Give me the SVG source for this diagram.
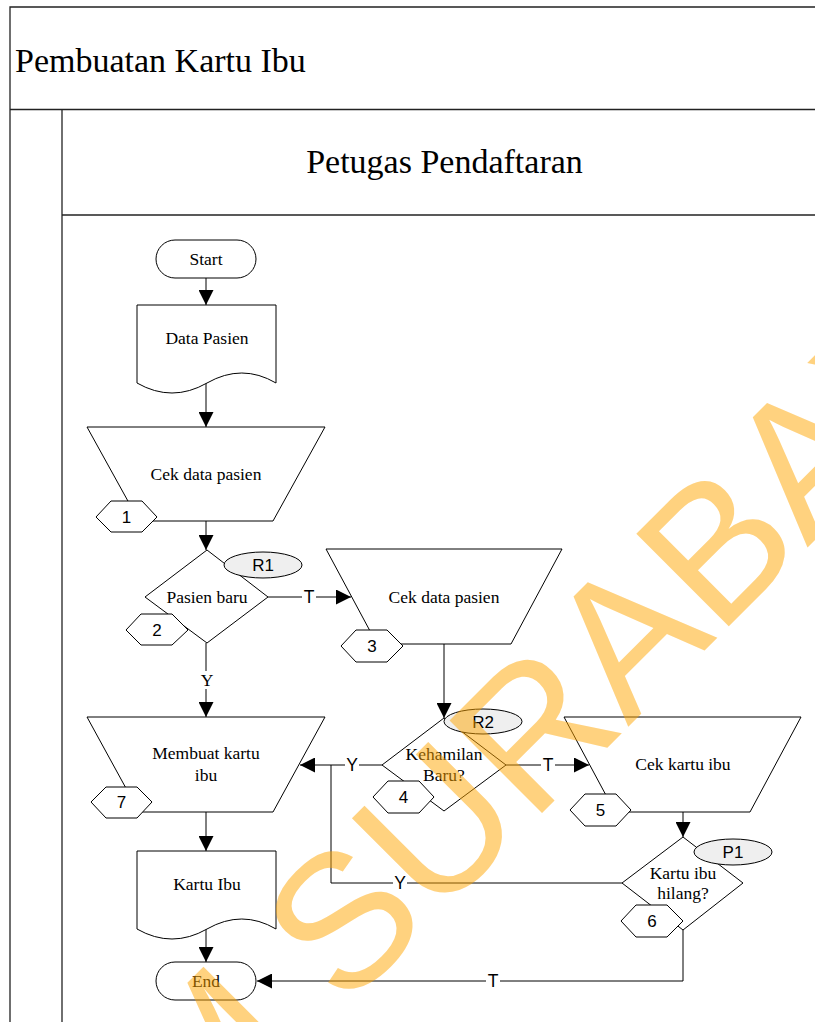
<svg xmlns="http://www.w3.org/2000/svg" width="815" height="1022" viewBox="0 0 815 1022">
  <defs>
    <marker id="arrow" viewBox="0 0 15 15" refX="15" refY="7.5" markerWidth="15" markerHeight="15" markerUnits="userSpaceOnUse" orient="auto">
      <path d="M0,0 L15,7.5 L0,15 Z" fill="#000"/>
    </marker>
  </defs>
  <style>
    .frame { fill: none; stroke: #222; stroke-width: 1.3; }
    .shape { fill: #fff; stroke: #000; stroke-width: 1; }
    .tag { fill: #efefef; stroke: #000; stroke-width: 1; }
    .line { fill: none; stroke: #000; stroke-width: 1; }
    .arr { marker-end: url(#arrow); }
    .serif { font-family: "Liberation Serif", "DejaVu Serif", serif; fill: #000; text-anchor: middle; }
    .sans { font-family: "Liberation Sans", Arial, sans-serif; fill: #000; text-anchor: middle; }
    .lbl { font-size: 17.5px; }
    .num { font-size: 17px; }
    .bg { fill: #fff; }
  </style>

  <rect width="815" height="1022" fill="#fff"/>

  <!-- pool and lane frame -->
  <g id="frame">
    <path class="frame" d="M10,1022 V7 H815"/>
    <path class="frame" d="M10,109.5 H815"/>
    <path class="frame" d="M62,110 V1022"/>
    <path class="frame" d="M62,215 H815"/>
    <text class="serif" x="15" y="72" font-size="34" style="text-anchor:start">Pembuatan Kartu Ibu</text>
    <text class="serif" x="444.5" y="173" font-size="34">Petugas Pendaftaran</text>
  </g>

  <!-- connectors -->
  <g id="connectors">
    <path class="line arr" d="M206,278 V305"/>
    <path class="line arr" d="M206,382 V427"/>
    <path class="line arr" d="M206,521 V550"/>
    <path class="line arr" d="M268,597 H351"/>
    <path class="line arr" d="M206,643 V717"/>
    <path class="line arr" d="M444,644 V718"/>
    <path class="line arr" d="M382,765 H300"/>
    <path class="line arr" d="M506,765 H589"/>
    <path class="line arr" d="M683,812 V837"/>
    <path class="line" d="M622,883 H331 V765"/>
    <path class="line arr" d="M683,930 V981 H257"/>
    <path class="line arr" d="M206,812 V851"/>
    <path class="line arr" d="M206,928 V962"/>
    <!-- branch labels -->
    <rect class="bg" x="302" y="589" width="14" height="17"/>
    <text class="sans lbl" x="309" y="603">T</text>
    <rect class="bg" x="199" y="671" width="15" height="18"/>
    <text class="serif lbl" x="207" y="686">Y</text>
    <rect class="bg" x="345" y="757" width="14" height="17"/>
    <text class="sans lbl" x="352" y="771">Y</text>
    <rect class="bg" x="541" y="757" width="14" height="17"/>
    <text class="sans lbl" x="548" y="771">T</text>
    <rect class="bg" x="393" y="875" width="14" height="17"/>
    <text class="sans lbl" x="400" y="889">Y</text>
    <rect class="bg" x="486" y="973" width="14" height="17"/>
    <text class="sans lbl" x="493" y="987">T</text>
  </g>

  <g id="start">
    <rect class="shape" x="156" y="240" width="100" height="38" rx="19"/>
    <text class="serif lbl" x="206" y="265">Start</text>
  </g>

  <g id="data-pasien">
    <path class="shape" d="M137,305 H276 V383 Q242,363 207,383 Q172,403 137,383 Z"/>
    <text class="serif lbl" x="207" y="344">Data Pasien</text>
  </g>

  <g id="cek-data-pasien-1">
    <path class="shape" d="M87,427 H325 L273,521 H139 Z"/>
    <text class="serif lbl" x="206" y="480">Cek data pasien</text>
    <path class="shape" d="M96,517 L111,501 H142 L157,517 L142,532 H111 Z"/>
    <text class="sans num" x="126.5" y="523">1</text>
  </g>

  <g id="pasien-baru">
    <path class="shape" d="M207,550 L268,597 L207,643 L145,597 Z"/>
    <text class="serif lbl" x="207" y="603">Pasien baru</text>
    <ellipse class="tag" cx="263" cy="565" rx="39" ry="13"/>
    <text class="sans num" x="263" y="571">R1</text>
    <path class="shape" d="M126,630 L141,614 H172 L188,630 L172,645 H141 Z"/>
    <text class="sans num" x="157" y="636">2</text>
  </g>

  <g id="cek-data-pasien-2">
    <path class="shape" d="M326,549 H562 L511,644 H377 Z"/>
    <text class="serif lbl" x="444" y="603">Cek data pasien</text>
    <path class="shape" d="M341,646 L356,630 H387 L403,646 L387,662 H356 Z"/>
    <text class="sans num" x="372" y="652">3</text>
  </g>

  <g id="membuat-kartu-ibu">
    <path class="shape" d="M87,717 H325 L273,812 H139 Z"/>
    <text class="serif lbl" x="206" y="759">Membuat kartu</text>
    <text class="serif lbl" x="206" y="781">ibu</text>
    <path class="shape" d="M91,802 L106,787 H137 L152,802 L137,818 H106 Z"/>
    <text class="sans num" x="121.5" y="808">7</text>
  </g>

  <g id="kehamilan-baru">
    <path class="shape" d="M444,718 L506,765 L444,811 L382,765 Z"/>
    <text class="serif lbl" x="444" y="760">Kehamilan</text>
    <text class="serif lbl" x="444" y="781">Baru?</text>
    <ellipse class="tag" cx="483" cy="721.5" rx="39" ry="12.5"/>
    <text class="sans num" x="483" y="727.5">R2</text>
    <path class="shape" d="M373,797 L388,781 H419 L434,797 L419,813 H388 Z"/>
    <text class="sans num" x="403.5" y="803">4</text>
  </g>

  <g id="cek-kartu-ibu">
    <path class="shape" d="M564,717 H801 L750,812 H615 Z"/>
    <text class="serif lbl" x="683" y="770">Cek kartu ibu</text>
    <path class="shape" d="M570,810 L585,794 H616 L631,810 L616,826 H585 Z"/>
    <text class="sans num" x="600.5" y="816">5</text>
  </g>

  <g id="kartu-ibu-hilang">
    <path class="shape" d="M683,837 L743,883 L683,930 L622,883 Z"/>
    <text class="serif lbl" x="683" y="879">Kartu ibu</text>
    <text class="serif lbl" x="683" y="899">hilang?</text>
    <ellipse class="tag" cx="733" cy="852" rx="39" ry="13"/>
    <text class="sans num" x="733" y="858">P1</text>
    <path class="shape" d="M621,921 L636,905 H667 L683,921 L667,937 H636 Z"/>
    <text class="sans num" x="652" y="927">6</text>
  </g>

  <g id="kartu-ibu">
    <path class="shape" d="M137,851 H276 V929 Q242,909 207,929 Q172,949 137,929 Z"/>
    <text class="serif lbl" x="207" y="890">Kartu Ibu</text>
  </g>

  <g id="end">
    <rect class="shape" x="156" y="962" width="100" height="38" rx="19"/>
    <text class="serif lbl" x="206" y="987">End</text>
  </g>

  <!-- repository watermark -->
  <g id="watermark">
    <text transform="translate(-208,1563) rotate(-45)" font-family="Liberation Sans, Arial, sans-serif" font-size="190" fill="#FFA500" fill-opacity="0.5" style="font-kerning:none">STIKOM SURABAYA</text>
  </g>
</svg>
